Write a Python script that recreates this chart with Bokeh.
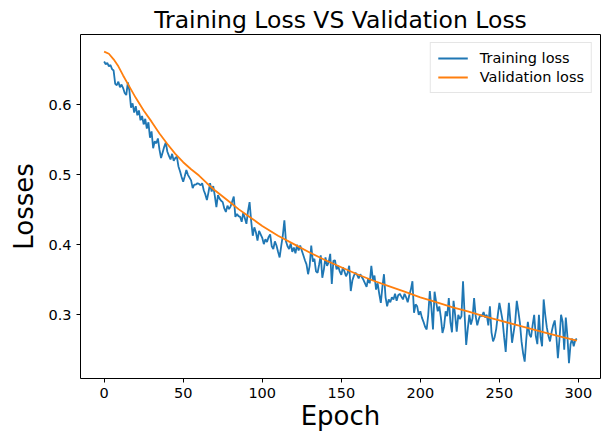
from bokeh.plotting import figure
from bokeh.models import Range1d, FixedTicker, Legend, LegendItem
from bokeh.embed import file_html
from bokeh.resources import INLINE

# Validation loss (smooth), read every 5-10 epochs
val_epochs = [0, 3, 6, 9, 12, 15, 20, 25, 30, 35, 40, 45, 50, 55, 60, 65, 70, 75, 80, 85, 90, 95,
              100, 110, 120, 130, 140, 150, 160, 170, 180, 190, 200, 210, 220, 230, 240,
              250, 260, 270, 280, 290, 299]
val_loss = [0.676, 0.673, 0.665, 0.655, 0.642, 0.630, 0.610, 0.592, 0.576, 0.559, 0.544,
            0.530, 0.518, 0.508, 0.499, 0.488, 0.478, 0.469, 0.460, 0.451, 0.443, 0.435,
            0.427, 0.413, 0.401, 0.389, 0.378, 0.368, 0.358, 0.349, 0.341, 0.333, 0.325,
            0.318, 0.311, 0.305, 0.298, 0.292, 0.286, 0.280, 0.274, 0.268, 0.263]

# Training loss, one value per epoch (0..299)
train_loss = [
    0.662, 0.658, 0.660, 0.655, 0.657, 0.651, 0.649, 0.630, 0.628, 0.633,
    0.625, 0.629, 0.624, 0.617, 0.614, 0.632, 0.620, 0.596, 0.602, 0.589,
    0.598, 0.585, 0.592, 0.578, 0.584, 0.572, 0.580, 0.566, 0.575, 0.553,
    0.562, 0.538, 0.548, 0.545, 0.552, 0.536, 0.524, 0.532, 0.540, 0.546,
    0.533, 0.527, 0.522, 0.530, 0.520, 0.524, 0.526, 0.512, 0.505, 0.497,
    0.490, 0.498, 0.507, 0.500, 0.496, 0.492, 0.481, 0.486, 0.486, 0.488,
    0.487, 0.485, 0.488, 0.478, 0.472, 0.464, 0.475, 0.488, 0.476, 0.484,
    0.470, 0.454, 0.471, 0.466, 0.463, 0.461, 0.452, 0.447, 0.456, 0.451,
    0.455, 0.462, 0.469, 0.440, 0.444, 0.441, 0.440, 0.433, 0.446, 0.438,
    0.430, 0.448, 0.461, 0.434, 0.413, 0.425, 0.418, 0.406, 0.420, 0.415,
    0.410, 0.401, 0.408, 0.404, 0.411, 0.415, 0.398, 0.394, 0.405, 0.399,
    0.390, 0.382, 0.398, 0.413, 0.435, 0.405, 0.398, 0.394, 0.402, 0.390,
    0.396, 0.388, 0.400, 0.392, 0.399, 0.392, 0.385, 0.378, 0.372, 0.358,
    0.370, 0.399, 0.376, 0.380, 0.362, 0.360, 0.372, 0.385, 0.353, 0.365,
    0.382, 0.370, 0.375, 0.387, 0.344, 0.377, 0.378, 0.365, 0.370, 0.362,
    0.357, 0.368, 0.362, 0.355, 0.360, 0.370, 0.334, 0.349, 0.356, 0.360,
    0.357, 0.352, 0.358, 0.354, 0.350, 0.345, 0.340, 0.352, 0.345, 0.370,
    0.350, 0.356, 0.336, 0.345, 0.330, 0.317, 0.340, 0.358, 0.325, 0.312,
    0.322, 0.318, 0.325, 0.322, 0.330, 0.320, 0.328, 0.330, 0.326, 0.322,
    0.330, 0.325, 0.318, 0.328, 0.336, 0.348, 0.303, 0.315, 0.312, 0.300,
    0.305, 0.296, 0.290, 0.283, 0.279, 0.300, 0.334, 0.310, 0.279, 0.333,
    0.318, 0.305, 0.312, 0.296, 0.274, 0.283, 0.305, 0.298, 0.324, 0.290,
    0.275, 0.320, 0.300, 0.276, 0.300, 0.294, 0.298, 0.348, 0.300, 0.257,
    0.280, 0.300, 0.286, 0.295, 0.324, 0.298, 0.285, 0.294, 0.300, 0.298,
    0.304, 0.296, 0.300, 0.285, 0.312, 0.275, 0.262, 0.268, 0.280, 0.300,
    0.317, 0.305, 0.292, 0.268, 0.247, 0.285, 0.317, 0.290, 0.260, 0.275,
    0.290, 0.320, 0.305, 0.288, 0.262, 0.245, 0.233, 0.265, 0.290, 0.272,
    0.268, 0.285, 0.300, 0.270, 0.258, 0.300, 0.268, 0.255, 0.322, 0.300,
    0.282, 0.270, 0.262, 0.275, 0.285, 0.292, 0.270, 0.238, 0.265, 0.300,
    0.290, 0.250, 0.296, 0.270, 0.231, 0.258, 0.266, 0.255, 0.264, 0.266,
]
train_epochs = list(range(len(train_loss)))

x_ticks = [0, 50, 100, 150, 200, 250, 300]
y_ticks = [0.3, 0.4, 0.5, 0.6]

FONT = "DejaVu Sans"

p = figure(width=601, height=433, output_backend="svg", toolbar_location=None,
           x_range=Range1d(-14.95, 313.95), y_range=Range1d(0.209, 0.7005),
           min_border_left=80, min_border_right=1, min_border_top=34, min_border_bottom=55,
           title="Training Loss VS Validation Loss")

p.title.text_font = FONT
p.title.text_font_size = "23.5px"
p.title.text_font_style = "normal"
p.title.align = "center"
p.title.text_color = "black"
p.title.standoff = 2
p.title.offset = 0

p.outline_line_color = "black"
p.outline_line_width = 1
p.xgrid.visible = False
p.ygrid.visible = False
p.background_fill_color = "white"
p.border_fill_color = "white"

for ax in (p.xaxis[0], p.yaxis[0]):
    ax.axis_line_color = None
    ax.major_tick_line_color = "black"
    ax.major_tick_in = 0
    ax.major_tick_out = 4
    ax.minor_tick_line_color = None
    ax.major_label_text_font = FONT
    ax.major_label_text_font_size = "14.5px"
    ax.major_label_text_color = "black"
    ax.axis_label_text_font = FONT
    ax.axis_label_text_font_style = "normal"
    ax.axis_label_text_color = "black"
    ax.axis_label_text_font_size = "26px"

p.xaxis[0].ticker = FixedTicker(ticks=x_ticks)
p.yaxis[0].ticker = FixedTicker(ticks=y_ticks)
p.xaxis[0].axis_label = "Epoch"
p.yaxis[0].axis_label = "Losses"
p.xaxis[0].axis_label_standoff = 0
p.yaxis[0].axis_label_standoff = 6

r1 = p.line(train_epochs, train_loss, line_color="#1f77b4", line_width=1.8)
r2 = p.line(val_epochs, val_loss, line_color="#ff7f0e", line_width=1.8)

legend = Legend(items=[LegendItem(label="Training loss", renderers=[r1]),
                       LegendItem(label="Validation loss", renderers=[r2])],
                location="top_right")
legend.label_text_font = FONT
legend.label_text_font_size = "14.5px"
legend.label_text_color = "black"
legend.glyph_width = 30
legend.glyph_height = 14
legend.label_height = 14
legend.label_standoff = 12
legend.spacing = 3
legend.padding = 7
legend.margin = 8
legend.border_line_color = "#cccccc"
legend.border_line_width = 1
legend.background_fill_alpha = 0.8
p.add_layout(legend)

open("out.html", "w").write(file_html(p, INLINE))
